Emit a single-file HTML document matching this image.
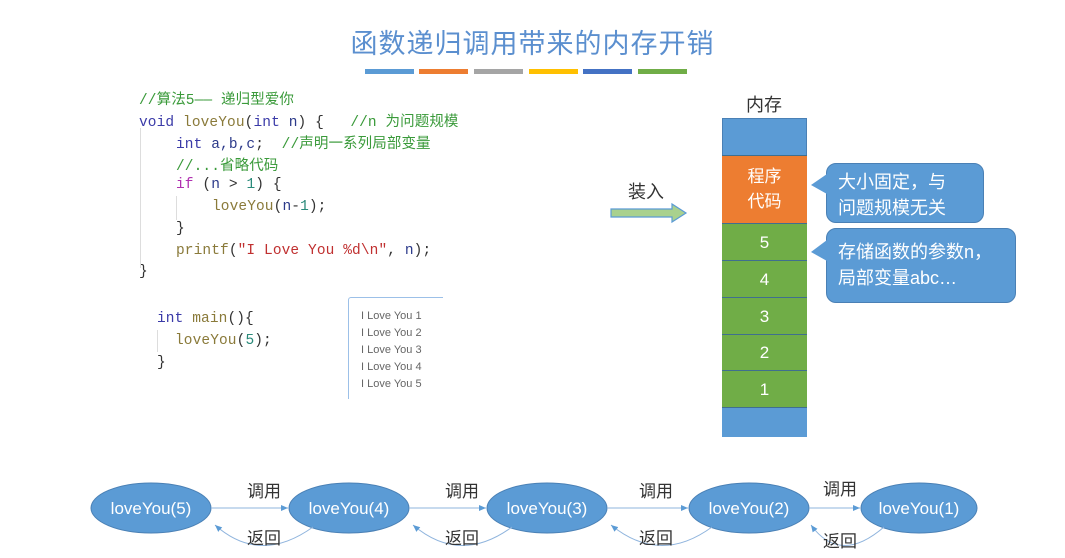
<!DOCTYPE html>
<html><head><meta charset="utf-8"><style>
body{margin:0;width:1065px;height:558px;background:#fff;position:relative;overflow:hidden;font-family:"Liberation Sans","Noto Sans CJK SC",sans-serif}
.a{position:absolute;white-space:pre}
.code{font-family:"Liberation Mono","Noto Sans CJK SC",monospace;font-size:14.5px;color:#333;letter-spacing:0.1px}
.kw{color:#3a3aa8}.fn{color:#8a7a3a}.cm{color:#3a9a3a}.num{color:#2a8a7a}.str{color:#c03030}.pp{color:#b030b0}.nv{color:#2c3a8a}
.bar{position:absolute;top:69px;height:5px;width:49px}
.cell{position:absolute;left:722px;width:85px;color:#fff;font-size:17px;text-align:center;box-sizing:border-box;border-top:1px solid #3f6f8f}
.call{position:absolute;background:#5b9bd5;border:1px solid #4a80b5;border-radius:10px;color:#fff;font-size:18px;line-height:26px;padding:5px 11px;box-sizing:border-box}
</style></head><body>
<div class="a" style="left:0;width:1065px;top:22px;text-align:center;font-size:27px;color:#5b8fcf;letter-spacing:1px">函数递归调用带来的内存开销</div>
<div class="bar" style="left:365px;background:#5b9bd5"></div>
<div class="bar" style="left:419px;background:#ed7d31"></div>
<div class="bar" style="left:474px;background:#a5a5a5"></div>
<div class="bar" style="left:529px;background:#ffc000"></div>
<div class="bar" style="left:583px;background:#4472c4"></div>
<div class="bar" style="left:638px;background:#70ad47"></div>

<div class="a code cm" style="left:139px;top:88px">//算法5—— 递归型爱你</div>
<div class="a code" style="left:139px;top:110px"><span class="kw">void</span> <span class="fn">loveYou</span>(<span class="kw">int</span> <span class="nv">n</span>) {   <span class="cm">//n 为问题规模</span></div>
<div class="a code" style="left:176px;top:132px"><span class="kw">int</span> <span class="nv">a,b,c</span>;  <span class="cm">//声明一系列局部变量</span></div>
<div class="a code cm" style="left:176px;top:154px">//...省略代码</div>
<div class="a code" style="left:176px;top:177px"><span class="pp">if</span> (<span class="nv">n</span> &gt; <span class="num">1</span>) {</div>
<div class="a code" style="left:212px;top:199px"><span class="fn">loveYou</span>(<span class="nv">n</span>-<span class="num">1</span>);</div>
<div class="a code" style="left:176px;top:221px">}</div>
<div class="a code" style="left:176px;top:243px"><span class="fn">printf</span>(<span class="str">"I Love You %d\n"</span>, <span class="nv">n</span>);</div>
<div class="a code" style="left:139px;top:264px">}</div>
<div class="a" style="left:140px;top:128px;width:1px;height:140px;background:#ddd"></div>
<div class="a" style="left:176px;top:196px;width:1px;height:24px;background:#ddd"></div>
<div class="a code" style="left:157px;top:311px"><span class="kw">int</span> <span class="fn">main</span>(){</div>
<div class="a code" style="left:175px;top:333px"><span class="fn">loveYou</span>(<span class="num">5</span>);</div>
<div class="a code" style="left:157px;top:355px">}</div>
<div class="a" style="left:157px;top:330px;width:1px;height:22px;background:#ddd"></div>
<div class="a" style="left:348px;top:297px;width:94px;height:101px;border-left:1px solid #9cc0e8;border-top:1px solid #9cc0e8;border-radius:3px 0 0 0"></div>
<div class="a" style="left:361px;top:308px;font-size:11px;line-height:17px;color:#666">I Love You 1
I Love You 2
I Love You 3
I Love You 4
I Love You 5</div>

<div class="a" style="left:746px;top:91px;font-size:18px;color:#333">内存</div>
<div class="a" style="left:628px;top:178px;font-size:18px;color:#333">装入</div>
<svg class="a" style="left:608px;top:202px" width="84" height="22"><polygon points="3,7 64,7 64,2 78,11 64,20 64,15 3,15" fill="#a9d18e" stroke="#5b9bd5" stroke-width="1.2"/></svg>

<div class="cell" style="top:118px;height:37px;background:#5b9bd5;border-top:1px solid #4a80b5;border-left:1px solid #4a80b5;border-right:1px solid #4a80b5"></div>
<div class="cell" style="top:155px;height:68px;background:#ed7d31;padding-top:8px;line-height:25px">程序<br>代码</div>
<div class="cell" style="top:223px;height:37px;background:#70ad47;line-height:37px">5</div>
<div class="cell" style="top:260px;height:37px;background:#70ad47;line-height:37px">4</div>
<div class="cell" style="top:297px;height:37px;background:#70ad47;line-height:37px">3</div>
<div class="cell" style="top:334px;height:36px;background:#70ad47;line-height:36px">2</div>
<div class="cell" style="top:370px;height:37px;background:#70ad47;line-height:37px">1</div>
<div class="cell" style="top:407px;height:30px;background:#5b9bd5"></div>

<div class="call" style="left:826px;top:163px;width:158px;height:60px">大小固定，与<br>问题规模无关</div>
<div class="call" style="left:826px;top:228px;width:190px;height:75px;padding-top:10px">存储函数的参数n，<br>局部变量abc…</div>
<svg class="a" style="left:808px;top:160px" width="22" height="160"><polygon points="19,14 3,25 19,34" fill="#5b9bd5"/><polygon points="19,80 3,92 19,101" fill="#5b9bd5"/></svg>

<svg class="a" style="left:0;top:470px" width="1065" height="88">
<defs><marker id="m" markerWidth="8" markerHeight="8" refX="7" refY="4" orient="auto"><path d="M0,1 L7,4 L0,7z" fill="#5b9bd5"/></marker></defs>
<g fill="#5b9bd5" stroke="#4a80b5">
<ellipse cx="151" cy="38" rx="60" ry="25"/><ellipse cx="349" cy="38" rx="60" ry="25"/><ellipse cx="547" cy="38" rx="60" ry="25"/><ellipse cx="749" cy="38" rx="60" ry="25"/><ellipse cx="919" cy="38" rx="58" ry="25"/></g>
<g fill="#fff" font-size="17" text-anchor="middle" font-family="Liberation Sans,sans-serif">
<text x="151" y="44">loveYou(5)</text><text x="349" y="44">loveYou(4)</text><text x="547" y="44">loveYou(3)</text><text x="749" y="44">loveYou(2)</text><text x="919" y="44">loveYou(1)</text></g>
<g stroke="#8fb4dd" stroke-width="1" fill="none" marker-end="url(#m)">
<line x1="211" y1="38" x2="288" y2="38"/><line x1="409" y1="38" x2="486" y2="38"/><line x1="607" y1="38" x2="688" y2="38"/><line x1="809" y1="38" x2="860" y2="38"/>
<path d="M313,57 Q260,95 215,55"/><path d="M512,57 Q460,95 413,55"/><path d="M712,57 Q660,95 611,55"/><path d="M884,57 Q840,95 811,55"/>
</g>
<g fill="#333" font-size="17" font-family="Noto Sans CJK SC,sans-serif" text-anchor="middle">
<text x="264" y="27">调用</text><text x="462" y="27">调用</text><text x="656" y="27">调用</text><text x="840" y="25">调用</text>
<text x="264" y="74">返回</text><text x="462" y="74">返回</text><text x="656" y="74">返回</text><text x="840" y="77">返回</text></g>
</svg>
</body></html>
